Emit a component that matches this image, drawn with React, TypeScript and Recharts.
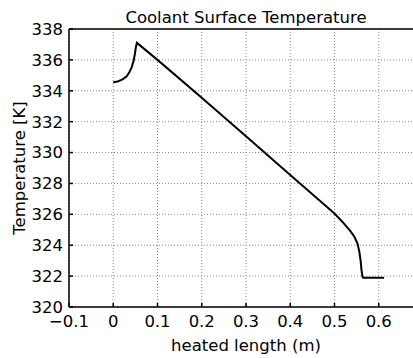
import { LineChart, Line, XAxis, YAxis, CartesianGrid, ReferenceLine } from 'recharts';

// heated length (m) and coolant surface temperature (K)
const positions = [
  0, 0.01, 0.02, 0.03, 0.036, 0.042, 0.046, 0.049, 0.051, 0.0535,
  0.1, 0.2, 0.3, 0.4, 0.45, 0.5, 0.52, 0.535, 0.545, 0.552, 0.556, 0.559,
  0.561, 0.563, 0.565, 0.612,
];
const temperatures = [
  334.55, 334.6, 334.72, 334.92, 335.18, 335.55, 335.95, 336.4, 336.8, 337.1,
  336.0, 333.55, 331.05, 328.55, 327.3, 326.05, 325.45, 324.95, 324.55, 324.1,
  323.6, 323.0, 322.4, 322.0, 321.9, 321.9,
];

const xTicks = [-0.1, 0, 0.1, 0.2, 0.3, 0.4, 0.5, 0.6, 0.7];
const yTicks = [320, 322, 324, 326, 328, 330, 332, 334, 336, 338];

const data = positions.map((x, i) => ({ x, temp: temperatures[i] }));

const font = { fontFamily: '"DejaVu Sans", sans-serif', fontSize: 16.5, fill: '#000' };

const formatX = (v: number) => {
  if (v > 0.65) return '';
  return v < 0 ? '\u2212' + Math.abs(v) : String(v);
};

export default function App() {
  return (
    <div style={{ width: 413, height: 358, overflow: 'hidden', background: '#fff' }}>
      <style>{'body{margin:0;overflow:hidden}'}</style>
      <LineChart
        width={440}
        height={358}
        data={data}
        margin={{ top: 29, right: 17, bottom: 0, left: 0 }}
      >
        <CartesianGrid stroke="#888" strokeDasharray="1 2" />
        <XAxis
          type="number"
          dataKey="x"
          domain={[-0.1, 0.7]}
          ticks={xTicks}
          tickFormatter={formatX}
          height={51}
          tickSize={-4}
          tickMargin={12}
          tick={font}
          stroke="#000"
          strokeWidth={1.5}
          label={{
            value: 'heated length (m)',
            position: 'insideBottom',
            offset: 7,
            style: font,
          }}
        />
        <YAxis
          type="number"
          domain={[320, 338]}
          ticks={yTicks}
          width={69}
          tickSize={-4}
          tickMargin={10}
          tick={font}
          stroke="#000"
          strokeWidth={1.5}
          label={{
            value: 'Temperature [K]',
            angle: -90,
            position: 'insideLeft',
            offset: 19,
            style: { ...font, textAnchor: 'middle' },
          }}
        />
        {/* box top edge, with the title above it */}
        <ReferenceLine
          y={338}
          stroke="#000"
          strokeWidth={1.5}
          label={{
            value: 'Coolant Surface Temperature',
            position: 'top',
            offset: 6,
            style: font,
          }}
        />
        <ReferenceLine x={0.7} stroke="#000" strokeWidth={1.5} />
        <Line
          type="linear"
          dataKey="temp"
          stroke="#000"
          strokeWidth={2}
          dot={false}
          isAnimationActive={false}
        />
      </LineChart>
    </div>
  );
}
